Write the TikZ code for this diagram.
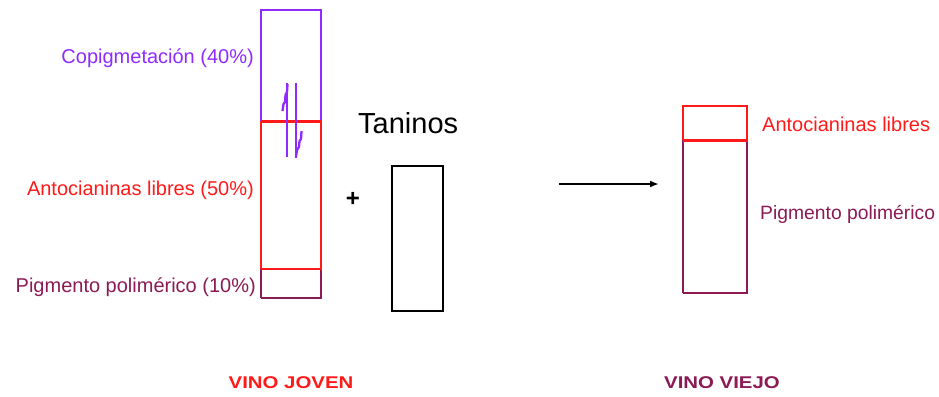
\documentclass[tikz,border=0pt]{standalone}
\usepackage{fontspec}
\setmainfont{Liberation Sans}
\usetikzlibrary{arrows.meta}
\definecolor{cpurple}{HTML}{8F2BFF}
\definecolor{cred}{HTML}{FF1A1A}
\definecolor{cmaroon}{HTML}{8B1A55}
\tikzset{
  lbl/.style={inner sep=0pt, font=\fontsize{20}{24}\selectfont},
  title/.style={inner sep=0pt, font=\fontsize{17}{20}\selectfont\bfseries},
}
\begin{document}
\begin{tikzpicture}[x=1pt,y=-1pt]
\useasboundingbox (0,0) rectangle (939,396);
\fill[white] (0,0) rectangle (939,396);
% left box (young wine)
\draw[cpurple, line width=1.2pt] (261,121) -- (261,10) -- (321,10) -- (321,121);
\draw[cred, line width=1.2pt] (261,121) -- (261,269) (321,121) -- (321,269);
\draw[cmaroon, line width=1.2pt] (261,269) -- (261,298) (321,269) -- (321,298);
\draw[cmaroon, line width=2pt] (260.5,298) -- (321.5,298);
\draw[cred, line width=3pt] (260.5,121) -- (321.5,121);
\draw[cred, line width=2pt] (260.5,269) -- (321.5,269);
% equilibrium squiggle
\draw[cpurple, line width=1.5pt] (287,83) -- (287,157);
\draw[cpurple, line width=2.8pt] (296,83) -- (296,158);
\draw[cpurple, line width=2.3pt, line join=round] (282.5,111) -- (283.5,104) -- (285,102) -- (285.5,95) -- (287,92) -- (287.5,84);
\draw[cpurple, line width=2.3pt, line join=round] (296,157) -- (297,150) -- (299,147) -- (299.5,141) -- (301,139) -- (301.5,131);
\node[lbl, text=cpurple, anchor=east] (cop) at (254,58) {Copigmetación (40\%)};
\node[lbl, text=cred, anchor=east] (anl) at (254,190) {Antocianinas libres (50\%)};
\node[lbl, text=cmaroon, anchor=east] (pig) at (256,287) {Pigmento polimérico (10\%)};
% plus and tannins
\node[inner sep=0pt, font=\fontsize{24}{28}\selectfont\bfseries] (plus) at (353,199) {+};
\node[inner sep=0pt, font=\fontsize{29}{34}\selectfont, anchor=west] (tan) at (358,123) {Taninos};
\node[draw=black, line width=1.5pt, minimum width=51pt, minimum height=145pt, inner sep=0pt] (tbox) at (417.5,238.5) {};
% arrow
\coordinate (a1) at (559,184);
\coordinate (a2) at (659,184);
\draw[line width=2pt, -{Latex[length=9pt,width=7pt]}] (a1) -- (a2);
% right box (old wine)
\draw[cred, line width=1.2pt] (683,140) -- (683,106) -- (747,106) -- (747,140);
\draw[cmaroon, line width=1.2pt] (683,140) -- (683,293) (747,140) -- (747,293);
\draw[cmaroon, line width=2pt] (682.5,293) -- (747.5,293);
\draw[cred, line width=3pt] (682.5,140) -- (747.5,140);
\node[lbl, text=cred, anchor=west] (anr) at (762,124) {Antocianinas libres};
\node[inner sep=0pt, font=\fontsize{19.3}{23}\selectfont, text=cmaroon, anchor=west] (pir) at (760,214) {Pigmento polimérico};
% titles
\node[title, text=cred] (vj) at (291,383) {\scalebox{1.2}[1]{VINO JOVEN}};
\node[title, text=cmaroon] (vv) at (722,383) {\scalebox{1.2}[1]{VINO VIEJO}};
\end{tikzpicture}
\end{document}
